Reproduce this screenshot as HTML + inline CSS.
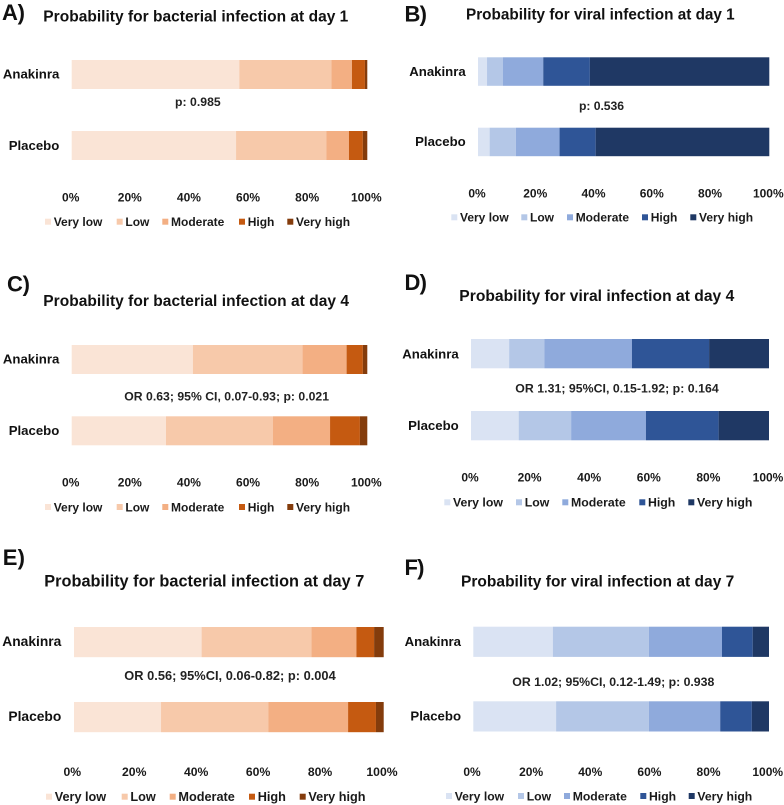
<!DOCTYPE html>
<html lang="en">
<head>
<meta charset="utf-8">
<title>Probability for infection at days 1, 4 and 7</title>
<style>
html,body{margin:0;padding:0;background:#fff;width:784px;height:805px;overflow:hidden}
svg{display:block;font-family:"Liberation Sans",Arial,sans-serif;font-weight:700;fill:#1a1a1a}
.letter{font-size:22px;fill:#111}
.title{font-size:15.5px;fill:#111}
.note{font-size:12.2px;fill:#222}
</style>
</head>
<body>
<svg id="figure" width="784" height="805" viewBox="0 0 784 805" xmlns="http://www.w3.org/2000/svg">
  <g id="panel-a">
    <text class="letter" x="2" y="20" textLength="23">A)</text>
    <text class="title" x="43.3" y="21.5" textLength="305">Probability for bacterial infection at day 1</text>
    <text class="note" x="175" y="106" textLength="45.7">p: 0.985</text>
  </g>
  <g id="panel-b">
    <text class="letter" x="404.5" y="21.5" textLength="22.5">B)</text>
    <text class="title" style="font-size:15.3px" x="466" y="19.5" textLength="268.7">Probability for viral infection at day 1</text>
    <text class="note" x="579" y="110" textLength="45">p: 0.536</text>
  </g>
  <g id="panel-c">
    <text class="letter" x="7" y="291.5" textLength="23">C)</text>
    <text class="title" x="43.3" y="306" textLength="305.7">Probability for bacterial infection at day 4</text>
    <text class="note" x="124.3" y="400.7" textLength="204.7">OR 0.63; 95% CI, 0.07-0.93; p: 0.021</text>
  </g>
  <g id="panel-d">
    <text class="letter" x="404.5" y="290" textLength="22.5">D)</text>
    <text class="title" style="font-size:15.6px" x="459.3" y="301" textLength="275">Probability for viral infection at day 4</text>
    <text class="note" style="font-size:12.3px" x="515.3" y="392.7" textLength="203.4">OR 1.31; 95%CI, 0.15-1.92; p: 0.164</text>
  </g>
  <g id="panel-e">
    <text class="letter" x="2.7" y="565" textLength="22.3">E)</text>
    <text class="title" style="font-size:16.3px" x="44.3" y="586.7" textLength="320">Probability for bacterial infection at day 7</text>
    <text class="note" style="font-size:12.8px" x="124.3" y="680" textLength="211.4">OR 0.56; 95%CI, 0.06-0.82; p: 0.004</text>
  </g>
  <g id="panel-f">
    <text class="letter" x="404.5" y="575" textLength="20">F)</text>
    <text class="title" x="461" y="586.7" textLength="273.3">Probability for viral infection at day 7</text>
    <text class="note" style="font-size:12.3px" x="512.3" y="686" textLength="202">OR 1.02; 95%CI, 0.12-1.49; p: 0.938</text>
  </g>
</svg>
<script>
// Chart data (percent of patients per probability level)
const categories = ["Anakinra", "Placebo"];
const levels = ["Very low", "Low", "Moderate", "High", "Very high"];
const tickValues = [0, 20, 40, 60, 80, 100];
const tickLabels = ["0%", "20%", "40%", "60%", "80%", "100%"];

const panelAAnakinra = [56.7, 31.2, 6.9, 4.4, 0.8];
const panelAPlacebo = [55.6, 30.6, 7.6, 4.7, 1.5];
const panelBAnakinra = [3.1, 5.4, 13.9, 16.0, 61.6];
const panelBPlacebo = [4.0, 9.0, 15.0, 12.4, 59.6];
const panelCAnakinra = [41.0, 37.1, 14.9, 5.5, 1.5];
const panelCPlacebo = [31.9, 36.2, 19.3, 10.1, 2.5];
const panelDAnakinra = [12.8, 11.8, 29.4, 25.9, 20.1];
const panelDPlacebo = [16.0, 17.6, 25.1, 24.4, 16.9];
const panelEAnakinra = [41.2, 35.5, 14.5, 5.7, 3.1];
const panelEPlacebo = [28.1, 34.7, 25.7, 9.0, 2.5];
const panelFAnakinra = [26.9, 32.5, 24.7, 10.4, 5.5];
const panelFPlacebo = [28.0, 31.4, 24.1, 10.7, 5.8];

const orangeColors = ["#fae4d6", "#f7c9aa", "#f3af83", "#c55a11", "#843c0c"];
const blueColors = ["#dae3f3", "#b4c7e7", "#8faadc", "#2f5597", "#1f3864"];

const SVG_NS = "http://www.w3.org/2000/svg";

function xAxis(left, right) {
  return function (value) {
    return left + (right - left) * value / 100;
  };
}

function yAxis(tops, height) {
  return function (index) {
    return { top: tops[index], height: height };
  };
}

function mk(parent, tag, attrs, text) {
  const el = document.createElementNS(SVG_NS, tag);
  for (const key in attrs) {
    el.setAttribute(key, attrs[key]);
  }
  if (text !== undefined) {
    el.textContent = text;
  }
  parent.appendChild(el);
  return el;
}

function drawPanel(groupId, series, colors, layout) {
  const group = document.getElementById(groupId);
  const x = xAxis(layout.left, layout.right);
  const y = yAxis(layout.barTops, layout.barHeight);

  series.forEach(function (values, row) {
    const band = y(row);
    let running = 0;
    values.forEach(function (value, level) {
      const x0 = x(running);
      const x1 = x(running + value);
      const seg = mk(group, "rect", { x: x0, y: band.top, width: x1 - x0, height: band.height, fill: colors[level] });
      
      
      running += value;
    });
    const cat = mk(group, "text", {
      x: layout.categoryRight, y: layout.categoryBaselines[row], "text-anchor": "end",
      "font-size": layout.categorySize, fill: "#111"
    }, categories[row]);
    
    
  });

  tickValues.forEach(function (tick, i) {
    const label = mk(group, "text", {
      x: x(tick) + layout.tickShift, y: layout.tickBaseline, "text-anchor": "middle",
      "font-size": layout.tickSize
    }, tickLabels[i]);
    
    
  });

  levels.forEach(function (name, i) {
    const swatch = mk(group, "rect", {
      x: layout.legendX[i], y: layout.legendY - 3, width: 6, height: 6, fill: colors[i]
    });
    
    
    const text = mk(group, "text", {
      x: layout.legendX[i] + 8.7, y: layout.legendY + 4.4, "font-size": layout.legendSize
    }, name);
    
    
  });
}

drawPanel("panel-a", [panelAAnakinra, panelAPlacebo], orangeColors, {
  left: 71.7, right: 367.3, barTops: [60, 131], barHeight: 29,
  categoryRight: 59.3, categoryBaselines: [78.3, 150], categorySize: 13.2,
  tickShift: -1, tickBaseline: 201.5, tickSize: 12,
  legendX: [45, 116.7, 162.3, 239, 287.3], legendY: 221.7, legendSize: 12
});
drawPanel("panel-b", [panelBAnakinra, panelBPlacebo], blueColors, {
  left: 478, right: 769.3, barTops: [57.3, 127.7], barHeight: 28.5,
  categoryRight: 465.7, categoryBaselines: [76, 146], categorySize: 13.2,
  tickShift: -1, tickBaseline: 197.5, tickSize: 12,
  legendX: [451.3, 521.3, 567, 642, 690.3], legendY: 217.3, legendSize: 12
});
drawPanel("panel-c", [panelCAnakinra, panelCPlacebo], orangeColors, {
  left: 71.7, right: 367.3, barTops: [345, 416.3], barHeight: 29,
  categoryRight: 59.3, categoryBaselines: [363.3, 435], categorySize: 13.2,
  tickShift: -1, tickBaseline: 486.7, tickSize: 12,
  legendX: [45, 116.7, 162.3, 239, 287.3], legendY: 507, legendSize: 12
});
drawPanel("panel-d", [panelDAnakinra, panelDPlacebo], blueColors, {
  left: 471, right: 769, barTops: [339, 411], barHeight: 29.3,
  categoryRight: 458.7, categoryBaselines: [358.3, 430], categorySize: 13.2,
  tickShift: -1, tickBaseline: 481.7, tickSize: 12,
  legendX: [444.3, 516, 562.3, 639.3, 688.3], legendY: 502.3, legendSize: 12.3
});
drawPanel("panel-e", [panelEAnakinra, panelEPlacebo], orangeColors, {
  left: 74, right: 383.7, barTops: [627, 702], barHeight: 30.2,
  categoryRight: 61.3, categoryBaselines: [646, 721], categorySize: 13.8,
  tickShift: -1.7, tickBaseline: 776, tickSize: 12.2,
  legendX: [46, 121.7, 169.7, 249, 299.7], legendY: 796.7, legendSize: 12.7
});
drawPanel("panel-f", [panelFAnakinra, panelFPlacebo], blueColors, {
  left: 473.3, right: 769, barTops: [626.7, 701.3], barHeight: 30.2,
  categoryRight: 461, categoryBaselines: [646, 720.7], categorySize: 13.2,
  tickShift: -1.3, tickBaseline: 776, tickSize: 12,
  legendX: [446, 518, 564, 640.3, 688.7], legendY: 796, legendSize: 12.2
});
</script>
</body>
</html>
